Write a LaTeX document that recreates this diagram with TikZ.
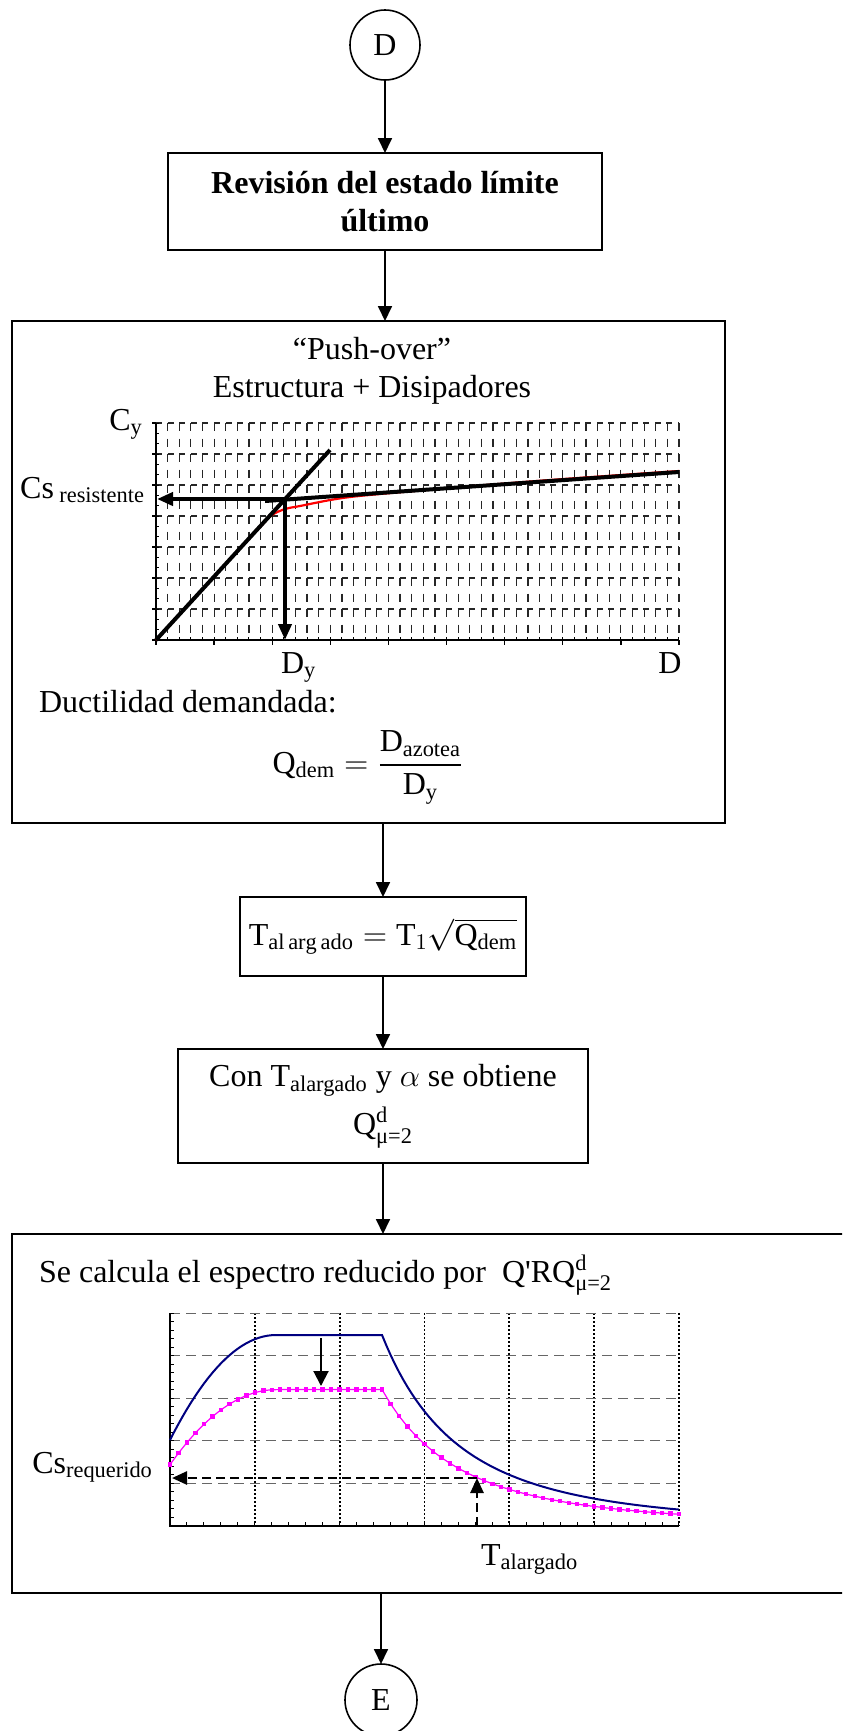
\RequirePackage{fix-cm}
\documentclass[tikz,border=0pt]{standalone}
\usepackage{amsmath}
\usepackage{fontspec}
\setmainfont{Liberation Serif}
\usepackage{tikz}
\usetikzlibrary{positioning, arrows.meta}
\definecolor{azul}{RGB}{0,0,128}
\definecolor{rosa}{RGB}{255,0,255}
\tikzset{
x=0.5pt, y=-0.5pt, % one unit is one pixel of the page, y runs downwards
>={Triangle[length=7.5pt,width=7pt]}, % filled triangle heads
every node/.style={font=\fontsize{16}{19}\selectfont}, % body text size
negrita/.style={font=\fontsize{16}{19}\selectfont\bfseries},
bloque/.style={rectangle, draw=black, line width=1pt, inner sep=0pt, outer sep=0pt, align=center},
conector/.style={circle, draw=black, line width=0.8pt, inner sep=0pt, outer sep=0pt},
flecha/.style={->, line width=0.9pt},
recta/.style={line width=2pt}, % thick lines of the push-over plot
rejilla v/.style={black!85, line width=0.6pt, dash pattern=on 4pt off 3.75pt},
rejilla h/.style={black!85, line width=0.6pt, dash pattern=on 3pt off 2.8pt},
rejilla p/.style={black, line width=0.9pt, dash pattern=on 1pt off 1pt},
rejilla g/.style={black!60, line width=0.5pt, dash pattern=on 5pt off 3pt},
discont/.style={line width=1.3pt, dash pattern=on 4.5pt off 2.5pt, -{Triangle[length=7.5pt,width=6.5pt]}},
declare function={espectro(\t)=(86+105*(1-(1-min(\t/1.25,1))^2))*(2.5/max(\t,2.5))^2.8;},
}

\begin{document}
\begin{tikzpicture}
  \useasboundingbox (0,0) rectangle (842,1731);
  \clip (0,0) rectangle (842,1731);

  \node[conector, minimum size=35pt] (0) at (385,45) {D};
  \node[bloque, negrita, minimum width=217pt, minimum height=48.5pt, below=36.5pt of 0] (1) {Revisión del estado límite\\último};
  \node[bloque, minimum width=356.5pt, minimum height=251pt, below=35.5pt of 1, xshift=-8.25pt] (2) {};
  \node[bloque, minimum width=143pt, minimum height=39.5pt, below=37pt of 2, xshift=7.25pt] (3) {$\mathrm{T}_{\mathrm{al\,arg\,ado}} = \mathrm{T}_{1}\sqrt{\mathrm{Q}_{\mathrm{dem}}}$};
  \node[bloque, minimum width=205pt, minimum height=57pt, below=36.5pt of 3] (4) {Con T$_{\text{alargado}}$ y $\alpha$ se obtiene\\[5pt]$\mathrm{Q}^{\mathrm{d}}_{\text{μ=2}}$};
  \node[bloque, minimum width=429pt, minimum height=179.5pt, below=35.5pt of 4, xshift=29pt] (5) {};
  \node[conector, minimum size=36pt, below=35.5pt of 5, xshift=-30pt] (6) {E};

  \draw[flecha] (0) -- (1);
  \draw[flecha] (1.south) -- (1.south |- 2.north);
  \draw[flecha] (3.north |- 2.south) -- (3.north);
  \draw[flecha] (3) -- (4);
  \draw[flecha] (4.south) -- (4.south |- 5.north);
  \draw[flecha] (6.north |- 5.south) -- (6);

  % push-over
  \node[align=center] (t2) at (372,371) {“Push-over”\\Estructura + Disipadores};
  \foreach \i in {1,...,45}
    \draw[rejilla v] ({156+11.622*\i},423) -- ({156+11.622*\i},640);
  \foreach \j in {0,...,6}
    \draw[rejilla h] (156,{423+31*\j}) -- (679,{423+31*\j});
  \foreach \i in {1,...,45}
    \draw[line width=0.5pt] ({156+11.622*\i},640) -- ++(0,-3);
  \foreach \i in {0,...,9}
    \draw[line width=0.7pt] ({156+58.11*\i},640) -- ++(0,5);
  \foreach \j in {0,...,21}
    \draw[line width=0.5pt] (156,{423+10.333*\j}) -- ++(3,0);
  \foreach \j in {0,...,7}
    \draw[line width=0.7pt] (156,{423+31*\j}) -- ++(-4,0);
  \draw[line width=1pt] (156,423) -- (156,640) -- (679,640);

  \draw[red, line width=1.1pt] plot[smooth] coordinates {(156,640) (200,592) (245,543) (262,525) (272,515) (285,509) (300,506) (350,497) (450,488) (550,480) (679,471)};
  \coordinate (O) at (156,640);
  \coordinate (Y) at (285,499);
  \draw[recta] (O) -- (330,450);
  \draw[recta] (265,501) -- (679,472);
  \draw[recta, -{Triangle[length=8pt,width=6.5pt]}] (Y) -- (157,499);
  \draw[recta, -{Triangle[length=8pt,width=6.5pt]}] (Y) -- (285,640);

  \node[anchor=base east] (cy) at (150,430) {$\mathrm{C}_{\mathrm{y}}$};
  \node[anchor=base east] (csr) at (152,498) {Cs\,$_{\text{resistente}}$};
  \node[anchor=base west] (dy) at (274,673) {$\mathrm{D}_{\mathrm{y}}$};
  \node[anchor=base] (dd) at (670,673) {D};
  \node[anchor=base west] (duc) at (32,712) {Ductilidad demandada:};
  \node[anchor=base] (qdem) at (368,773) {$\mathrm{Q}_{\mathrm{dem}} = \dfrac{\mathrm{D}_{\mathrm{azotea}}}{\mathrm{D}_{\mathrm{y}}}$};

  % espectro reducido
  \node[anchor=base west] (t5) at (32,1282) {Se calcula el espectro reducido por \ Q\textquotesingle RQ$^{\mathrm{d}}_{\text{μ=2}}$};
  \foreach \i in {1,...,6}
    \draw[rejilla p] ({170+84.83*\i},1313) -- ({170+84.83*\i},1526);
  \foreach \j in {0,...,4}
    \draw[rejilla g] (170,{1313+42.6*\j}) -- (679,{1313+42.6*\j});
  \foreach \i in {1,...,30}
    \draw[line width=0.5pt] ({170+16.966*\i},1526) -- ++(0,-4);
  \foreach \j in {0,...,24}
    \draw[line width=0.5pt] (170,{1313+8.52*\j}) -- ++(4,0);
  \draw[line width=0.8pt] (170,1313) -- (170,1526) -- (679,1526);

  \draw[azul, line width=1pt] plot[domain=0:6, samples=121] ({170+84.83*\x},{1526-espectro(\x)});
  \draw[rosa, line width=0.6pt] plot[domain=0:6, samples=61] ({170+84.83*\x},{1526-espectro(\x)/1.4});
  \foreach \k in {0,...,60}
    \fill[rosa] ({170+8.483*\k-2.2},{1523.8-espectro(\k/10)/1.4}) rectangle ++(4.4,4.4);

  \draw[line width=1pt, -{Triangle[length=7.5pt,width=7.5pt]}] (321,1338) -- (321,1386);
  \coordinate (R) at (477,1478);
  \draw[discont] (R) -- (172,1478);
  \draw[discont] (477,1526) -- (R);
  \node[anchor=base east] (csq) at (160,1473) {Cs$_{\text{requerido}}$};
  \node[anchor=base west] (ta) at (474,1565) {T$_{\text{alargado}}$};

\end{tikzpicture}
\end{document}
